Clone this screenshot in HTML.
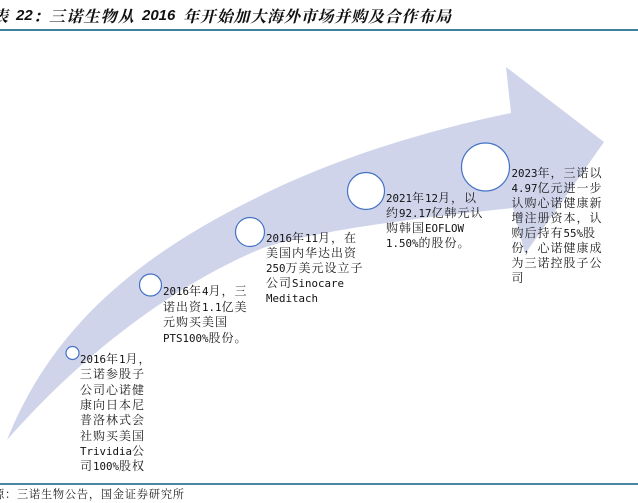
<!DOCTYPE html>
<html><head><meta charset="utf-8"><style>
html,body{margin:0;padding:0;background:#fff}
#p{position:relative;width:638px;height:503px;overflow:hidden;background:#fff}
svg{position:absolute;left:0;top:0}
.t{position:absolute;white-space:nowrap;font:12px/15.1px "Noto Serif CJK SC",serif;letter-spacing:1px;color:#1c1c1c}
.t div{height:15.1px}
.t span{font:10.8px/15.1px "DejaVu Sans Mono",monospace;letter-spacing:0;color:#111}
.h{position:absolute;top:5px;white-space:nowrap;font:italic 700 16px/22px "Noto Serif CJK SC",serif;color:#111}
.h.l{font:italic 700 15px/22px "Liberation Sans",sans-serif;letter-spacing:0}
</style></head><body><div id="p">
<svg width="638" height="503" viewBox="0 0 638 503">
<path d="M7 440 C45 345 115 268 250 201 C330 160 420 132 511 113 L506 67 L604 142 L525 254 L513 208 C430 217 325 228 263 248 C185 280 90 345 7 440 Z" fill="#cfd4ea"/>
<rect x="0" y="29" width="638" height="2" fill="#417f9f"/>
<rect x="0" y="483" width="638" height="2" fill="#4d86a3"/>
<g fill="#fff" stroke="#4472c4" stroke-width="1.2">
<circle cx="72.5" cy="353" r="6.5"/>
<circle cx="150.5" cy="285" r="11"/>
<circle cx="250" cy="232" r="14.5"/>
<circle cx="366" cy="191" r="18.5"/>
<circle cx="485.5" cy="167" r="24"/>
</g>
</svg>
<div class="h" style="left:-8px">表</div>
<div class="h l" style="left:16px">22</div>
<div class="h" style="left:33px">：</div>
<div class="h" style="left:49px;letter-spacing:1.2px">三诺生物从</div>
<div class="h l" style="left:142px">2016</div>
<div class="h" style="left:183px;letter-spacing:.8px">年开始加大海外市场并购及合作布局</div>
<div class="t" style="left:80px;top:351px">
<div style="height:15.35px"><span>2016</span>年<span>1</span>月，</div><div style="height:15.35px">三诺参股子</div><div style="height:15.35px">公司心诺健</div><div style="height:15.35px">康向日本尼</div><div style="height:15.35px">普洛林式会</div><div style="height:15.35px">社购买美国</div><div style="height:15.35px"><span>Trividia</span>公</div><div>司<span>100%</span>股权</div>
</div>
<div class="t" style="left:163px;top:283px">
<div style="height:15.5px"><span>2016</span>年<span>4</span>月，三</div><div style="height:15.5px">诺出资<span>1.1</span>亿美</div><div style="height:15.5px">元购买美国</div><div><span>PTS100%</span>股份。</div>
</div>
<div class="t" style="left:266px;top:230px">
<div><span>2016</span>年<span>11</span>月，在</div><div>美国内华达出资</div><div><span>250</span>万美元设立子</div><div>公司<span>Sinocare</span></div><div><span>Meditach</span></div>
</div>
<div class="t" style="left:386px;top:189.5px">
<div><span>2021</span>年<span>12</span>月，以</div><div>约<span>92.17</span>亿韩元认</div><div>购韩国<span>EOFLOW</span></div><div><span>1.50%</span>的股份。</div>
</div>
<div class="t" style="left:511.5px;top:164.5px">
<div><span>2023</span>年，三诺以</div><div><span>4.97</span>亿元进一步</div><div>认购心诺健康新</div><div>增注册资本，认</div><div>购后持有<span>55%</span>股</div><div>份，心诺健康成</div><div>为三诺控股子公</div><div>司</div>
</div>
<div style="position:absolute;left:-19px;top:487px;white-space:nowrap;font:11.2px/15px 'Noto Serif CJK SC',serif;color:#222;letter-spacing:.8px">来源：三诺生物公告，国金证券研究所</div>
</div></body></html>
